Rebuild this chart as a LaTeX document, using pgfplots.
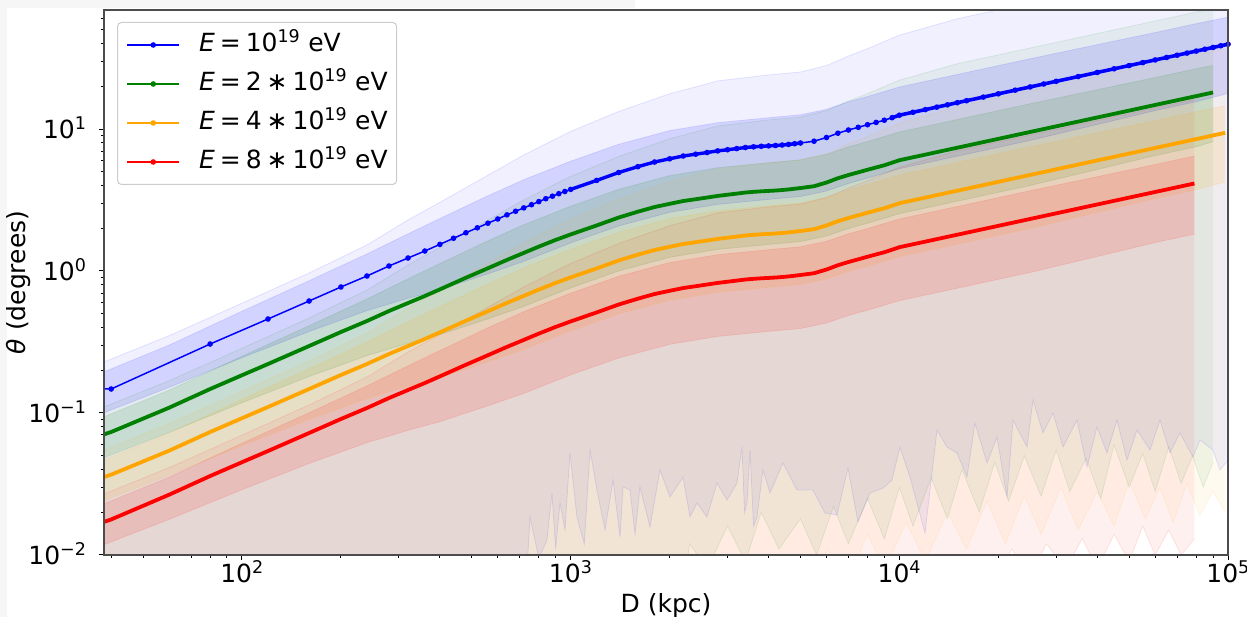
\documentclass[border=0pt]{standalone}
\usepackage{fontspec}
\setmainfont{DejaVu Sans}
\usepackage{pgfplots}
\pgfplotsset{compat=1.18}
\usepackage{pgfplotstable}
\usepgfplotslibrary{fillbetween}
\definecolor{mplgreen}{RGB}{0,128,0}
\definecolor{mplorange}{RGB}{255,165,0}
\definecolor{scr}{RGB}{246,246,246}

\pgfplotstableread{
D theta
35 0.1476
40 0.1476
80 0.3061
120 0.4592
160 0.6146
200 0.7716
240 0.9222
280 1.0844
320 1.2345
360 1.3829
400 1.540
440 1.700
480 1.860
520 2.015
560 2.170
600 2.325
640 2.4842
680 2.6330
720 2.7823
760 2.9303
800 3.0815
840 3.2303
880 3.3638
920 3.5029
960 3.6302
1000 3.7552
1200 4.345
1400 4.940
1600 5.427
1800 5.856
2000 6.168
2200 6.455
2400 6.645
2600 6.831
2800 7.011
3000 7.148
3200 7.278
3400 7.408
3600 7.492
3800 7.554
4000 7.603
4200 7.652
4400 7.714
4600 7.789
4800 7.878
5000 7.968
5500 8.205
6000 8.711
6500 9.341
7000 9.840
7500 10.28
8000 10.72
8500 11.13
9000 11.53
9500 12.01
10000 12.51
11000 13.12
12000 13.70
13000 14.26
14000 14.80
15000 15.32
16000 15.82
18000 16.78
20000 17.69
22500 18.77
25000 19.78
27500 20.75
30000 21.67
35000 23.40
40000 25.02
45000 26.54
50000 27.97
55000 29.34
60000 30.64
65000 31.89
70000 33.10
75000 34.26
80000 35.38
85000 36.47
90000 37.53
95000 38.56
100000 39.56
}\lineB

\pgfplotstableread{
D theta
38 0.0706
40 0.0735
60 0.10892
80 0.14752
100 0.18453
120 0.22130
160 0.29619
200 0.37186
240 0.44444
280 0.52260
320 0.59494
360 0.66646
400 0.74217
480 0.89639
560 1.04579
640 1.19721
720 1.34088
800 1.48507
900 1.65495
1000 1.80965
1200 2.09399
1400 2.38073
1600 2.61543
1800 2.82218
2000 2.97254
2200 3.11086
2400 3.20243
2600 3.29206
2800 3.37881
3000 3.44484
3200 3.50749
3400 3.57014
3600 3.61062
3800 3.64050
4000 3.66411
4200 3.68773
4400 3.71761
4600 3.75375
4800 3.79664
5000 3.84002
5500 3.95424
6000 4.19809
6500 4.50171
7000 4.74219
7500 4.95424
8000 5.16629
8500 5.36388
9000 5.55665
9500 5.78798
10000 6.02894
12000 6.60244
14000 7.13256
16000 7.62413
20000 8.52534
25000 9.53258
30000 10.4434
40000 12.0579
50000 13.4796
60000 14.7663
70000 15.9519
80000 17.0507
90000 18.0868
}\lineG

\pgfplotstableread{
D theta
38 0.0354
40 0.0368
60 0.05425
80 0.07348
100 0.09191
120 0.11023
160 0.14753
200 0.18522
240 0.22137
280 0.26030
320 0.29633
360 0.33195
400 0.36966
480 0.44647
560 0.52089
640 0.59631
720 0.66786
800 0.73968
900 0.82430
1000 0.90135
1200 1.04297
1400 1.18580
1600 1.30270
1800 1.40567
2000 1.48057
2200 1.54946
2400 1.59507
2600 1.63971
2800 1.68292
3000 1.71581
3200 1.74701
3400 1.77822
3600 1.79838
3800 1.81326
4000 1.82502
4200 1.83679
4400 1.85167
4600 1.86967
4800 1.89104
5000 1.91264
5500 1.96953
6000 2.09099
6500 2.24221
7000 2.36199
7500 2.46761
8000 2.57323
8500 2.67165
9000 2.76766
9500 2.88288
10000 3.00290
12000 3.28855
14000 3.55259
16000 3.79743
20000 4.24631
25000 4.74799
30000 5.20167
40000 6.00580
50000 6.71392
60000 7.35483
70000 7.94532
80000 8.49262
90000 9.00870
98000 9.400
}\lineO

\pgfplotstableread{
D theta
38 0.0171
40 0.0178
60 0.02657
80 0.03599
100 0.04502
120 0.05399
160 0.07227
200 0.09072
240 0.10843
280 0.12750
320 0.14515
360 0.16260
400 0.18107
480 0.21870
560 0.25515
640 0.29209
720 0.32714
800 0.36232
900 0.40377
1000 0.44151
1200 0.51089
1400 0.58085
1600 0.63811
1800 0.68855
2000 0.72523
2200 0.75898
2400 0.78132
2600 0.80319
2800 0.82435
3000 0.84046
3200 0.85575
3400 0.87103
3600 0.88091
3800 0.88820
4000 0.89396
4200 0.89972
4400 0.90701
4600 0.91583
4800 0.92630
5000 0.93688
5500 0.96474
6000 1.02424
6500 1.09831
7000 1.15699
7500 1.20872
8000 1.26046
8500 1.30867
9000 1.35570
9500 1.41214
10000 1.47093
12000 1.61085
14000 1.74018
16000 1.86012
20000 2.08000
25000 2.32573
30000 2.54796
40000 2.94185
50000 3.28871
60000 3.60265
70000 3.89190
79000 4.13411
}\lineR

\pgfplotstableread{
D ilo ihi ohi
38 0.1004 0.1948 0.2286
60 0.1514 0.3006 0.3501
100 0.2451 0.5207 0.5931
160 0.3749 0.8543 0.9680
240 0.5257 1.3187 1.5244
320 0.6419 1.8271 2.2863
400 0.7392 2.3408 3.0430
560 0.9548 3.3852 4.7263
720 1.1686 4.3960 6.5662
1000 1.5771 5.9329 9.6128
1400 2.0748 7.8052 13.289
2000 2.5906 9.7454 17.702
2800 2.9446 11.077 21.804
4000 3.1933 12.013 24.025
5000 3.3466 12.589 25.179
6000 3.6586 13.763 27.962
7000 4.1328 15.547 32.669
8000 4.5024 16.938 36.770
10000 5.2542 19.766 45.787
15000 6.4344 24.206 59.748
25000 8.3076 31.252 77.142
40000 10.759 39.281 97.578
60000 13.482 47.798 119.50
80000 15.567 55.193 137.98
100000 17.802 61.318 154.28
}\bandB

\pgfplotstableread{
D ilo ihi ohi
38 0.04839 0.09388 0.11017
60 0.07296 0.14487 0.16872
100 0.11812 0.25094 0.28583
160 0.18068 0.41171 0.46651
240 0.25335 0.63552 0.73465
320 0.30934 0.88053 1.10184
400 0.35624 1.12810 1.46651
560 0.46015 1.63143 2.27775
720 0.56318 2.11856 3.16445
1000 0.76005 2.85924 4.63269
1400 0.99989 3.76156 6.40436
2000 1.24849 4.69660 8.53113
2800 1.41909 5.33834 10.5080
4000 1.53894 5.78942 11.5784
5000 1.61282 6.06701 12.1345
6000 1.76318 6.63274 13.4757
7000 1.99171 7.49257 15.7442
8000 2.16984 8.16293 17.7206
10000 2.53216 9.52582 22.0662
15000 3.10093 11.6655 28.7943
25000 4.00368 15.0613 37.1770
40000 5.18509 18.9309 47.0253
60000 6.49738 23.0353 57.5906
80000 7.50220 26.5991 66.4968
90000 8.1392 28.035 70.540
}\bandG

\pgfplotstableread{
D ilo ihi ohi
38 0.02410 0.04676 0.05487
60 0.03634 0.07216 0.08404
100 0.05883 0.12499 0.14237
160 0.08999 0.20507 0.23236
240 0.12619 0.31654 0.36592
320 0.15408 0.43858 0.54880
400 0.17744 0.56189 0.73044
560 0.22919 0.81258 1.13450
720 0.28051 1.05522 1.57615
1000 0.37857 1.42413 2.30746
1400 0.49803 1.87356 3.18989
2000 0.62185 2.33929 4.24919
2800 0.70682 2.65893 5.23383
4000 0.76652 2.88360 5.76696
5000 0.80332 3.02186 6.04397
6000 0.87821 3.30365 6.71200
7000 0.99204 3.73190 7.84187
8000 1.08077 4.06580 8.82627
10000 1.26123 4.74463 10.9908
15000 1.54451 5.81041 14.3419
25000 1.99416 7.50173 18.5172
40000 2.58259 9.42901 23.4226
60000 3.23622 11.4734 28.6848
80000 3.73673 13.2486 33.1207
98000 4.2300 14.570 36.659
}\bandO

\pgfplotstableread{
D ilo ihi ohi
38 0.011805 0.022904 0.026879
60 0.017802 0.035345 0.041165
100 0.028819 0.061224 0.069737
160 0.044081 0.10045 0.11382
240 0.061812 0.15505 0.17924
320 0.075475 0.21483 0.26882
400 0.086915 0.27523 0.35780
560 0.11227 0.39803 0.55572
720 0.13740 0.51688 0.77205
1000 0.18544 0.69759 1.13027
1400 0.24395 0.91773 1.56252
2000 0.30460 1.14586 2.08140
2800 0.34623 1.30244 2.56371
4000 0.37547 1.41249 2.82486
5000 0.39349 1.48021 2.96055
6000 0.43018 1.61825 3.28777
7000 0.48594 1.82802 3.84122
8000 0.52939 1.99157 4.32342
10000 0.61779 2.32409 5.38363
15000 0.75656 2.84614 7.02517
25000 0.97681 3.67461 9.07036
40000 1.26504 4.61866 11.4732
60000 1.58521 5.62009 14.0510
79000 1.81896 6.44926 16.1226
}\bandR

\pgfplotstableread{
D theta
38 0.001
700 0.001
752 0.01852
800 0.0095
847 0.01275
877 0.02733
900 0.011
928 0.02323
961 0.0150
995 0.05228
1045 0.01852
1100 0.0120
1145 0.05488
1202 0.0287
1272 0.0150
1345 0.03374
1413 0.01339
1443 0.03012
1515 0.0287
1570 0.014
1625 0.03012
1743 0.01575
1869 0.03969
2005 0.02562
2196 0.03542
2307 0.01852
2423 0.02323
2598 0.01852
2787 0.03214
2989 0.0244
3206 0.03214
3320 0.05763
3380 0.02
3439 0.02323
3512 0.05488
3600 0.016
3689 0.01852
3846 0.03969
4040 0.02733
4425 0.04445
4880 0.0287
5459 0.0287
5937 0.01976
6459 0.01913
6975 0.041
7483 0.01708
8139 0.02733
8915 0.02963
9495 0.03374
10042 0.05763
10772 0.03542
11966 0.01429
13017 0.07592
13958 0.05763
14971 0.05228
16060 0.03542
16982 0.08503
18475 0.04445
19815 0.06776
21256 0.02562
22166 0.08927
24448 0.05763
25498 0.12346
27351 0.07231
29336 0.1
31464 0.05763
34698 0.08927
37218 0.04166
39921 0.07966
42818 0.05228
45924 0.08927
49259 0.04667
52844 0.07592
57872 0.05488
62073 0.08927
66583 0.05228
71412 0.07231
78208 0.04898
82139 0.06456
89946 0.05488
94477 0.03969
100000 0.04667
}\lowB

\pgfplotstableread{
D theta
38 0.001
2000 0.001
2300 0.012
2600 0.008
3000 0.016
3400 0.009
3800 0.020
4300 0.011
5000 0.018
5600 0.010
6300 0.022
7000 0.012
8000 0.025
9000 0.013
10000 0.030
11000 0.016
12500 0.035
14000 0.018
15500 0.040
17500 0.020
19500 0.045
21500 0.024
24000 0.050
27000 0.026
30000 0.055
33000 0.028
37000 0.048
41000 0.025
45000 0.060
50000 0.030
55000 0.052
60000 0.028
66000 0.058
72000 0.032
78000 0.050
84000 0.030
90000 0.045
}\lowG

\pgfplotstableread{
D theta
38 0.001
5000 0.001
6000 0.011
7000 0.007
8000 0.014
9000 0.008
10500 0.017
12000 0.009
14000 0.020
16000 0.011
18500 0.024
21000 0.012
24000 0.026
27000 0.014
31000 0.030
35000 0.015
40000 0.028
45000 0.016
50000 0.033
56000 0.018
62000 0.030
68000 0.017
75000 0.032
82000 0.019
90000 0.028
98000 0.020
}\lowO

\pgfplotstableread{
D theta
38 0.001
15000 0.001
17000 0.009
19000 0.006
22000 0.011
25000 0.007
28000 0.012
32000 0.008
36000 0.013
40000 0.008
45000 0.014
50000 0.009
55000 0.016
60000 0.010
66000 0.015
72000 0.010
79000 0.013
}\lowR

\begin{document}
\fontsize{25}{30}\selectfont
\begin{tikzpicture}
\fill[scr] (0pt,0pt) rectangle (7pt,617pt);
\fill[scr] (0pt,609pt) rectangle (635pt,617pt);
\begin{axis}[
  at={(104pt,62pt)}, anchor=south west,
  scale only axis, width=1124pt, height=545pt,
  xmode=log, ymode=log,
  xmin=38.04, xmax=100000, ymin=0.01, ymax=68.9,
  axis on top,
  axis line style={black!70, line width=1.2pt},
  tick style={black, line width=1pt},
  major tick length=5pt, minor tick length=3pt,
  tick align=outside, tick pos=left,
  xtick={100,1000,10000,100000},
  xticklabels={10\textsuperscript{2},10\textsuperscript{3},10\textsuperscript{4},10\textsuperscript{5}},
  ytick={0.01,0.1,1,10},
  yticklabels={10\textsuperscript{−2},10\textsuperscript{−1},10\textsuperscript{0},10\textsuperscript{1}},
  minor xtick={40,50,60,70,80,90,200,300,400,500,600,700,800,900,2000,3000,4000,5000,6000,7000,8000,9000,20000,30000,40000,50000,60000,70000,80000,90000},
  minor ytick={0.02,0.03,0.04,0.05,0.06,0.07,0.08,0.09,0.2,0.3,0.4,0.5,0.6,0.7,0.8,0.9,2,3,4,5,6,7,8,9,20,30,40,50,60},
  xticklabel style={anchor=base, yshift=-23pt},
  yticklabel style={anchor=base east, xshift=-4pt, yshift=-9.2pt},
  xlabel={D (kpc)}, ylabel={\textit{θ} (degrees)},
  xlabel style={at={(axis description cs:0.5,-0.1046)}, anchor=base},
  ylabel style={at={(axis description cs:-0.0694,0.5)}, anchor=base},
  legend cell align=left,
  legend image code/.code={\draw[mark repeat=2,mark phase=2,#1] plot coordinates {(0pt,0pt) (26pt,0pt) (52pt,0pt)};},
  legend style={at={(axis description cs:0.0116,0.978)}, anchor=north west,
    draw=black!20, line width=1pt, fill=white, fill opacity=0.8, text opacity=1,
    rounded corners=4pt, inner xsep=9pt, inner ysep=10pt, row sep=14pt,
    nodes={inner sep=0pt, text height=19pt, text depth=6pt, anchor=west},
    /tikz/every odd column/.style={column sep=19pt}},
]
% ---- bands: blue
\addplot[draw=blue, draw opacity=0.1, line width=0.8pt, name path=Bohi, forget plot] table[x=D,y=ohi]{\bandB};
\addplot[draw=blue, draw opacity=0.1, line width=0.8pt, name path=Bolo, forget plot] table[x=D,y=theta]{\lowB};
\addplot[draw=blue, draw opacity=0.1, line width=0.8pt, name path=Bihi, forget plot] table[x=D,y=ihi]{\bandB};
\addplot[draw=blue, draw opacity=0.1, line width=0.8pt, name path=Bilo, forget plot] table[x=D,y=ilo]{\bandB};
\addplot[fill=blue, fill opacity=0.06, draw=none, forget plot] fill between[of=Bohi and Bolo];
\addplot[fill=blue, fill opacity=0.12, draw=none, forget plot] fill between[of=Bihi and Bilo];
% ---- green
\addplot[draw=mplgreen, draw opacity=0.1, line width=0.8pt, name path=Gohi, forget plot] table[x=D,y=ohi]{\bandG};
\addplot[draw=mplgreen, draw opacity=0.1, line width=0.8pt, name path=Golo, forget plot] table[x=D,y=theta]{\lowG};
\addplot[draw=mplgreen, draw opacity=0.1, line width=0.8pt, name path=Gihi, forget plot] table[x=D,y=ihi]{\bandG};
\addplot[draw=mplgreen, draw opacity=0.1, line width=0.8pt, name path=Gilo, forget plot] table[x=D,y=ilo]{\bandG};
\addplot[fill=mplgreen, fill opacity=0.06, draw=none, forget plot] fill between[of=Gohi and Golo];
\addplot[fill=mplgreen, fill opacity=0.12, draw=none, forget plot] fill between[of=Gihi and Gilo];
% ---- orange
\addplot[draw=mplorange, draw opacity=0.1, line width=0.8pt, name path=Oohi, forget plot] table[x=D,y=ohi]{\bandO};
\addplot[draw=mplorange, draw opacity=0.1, line width=0.8pt, name path=Oolo, forget plot] table[x=D,y=theta]{\lowO};
\addplot[draw=mplorange, draw opacity=0.1, line width=0.8pt, name path=Oihi, forget plot] table[x=D,y=ihi]{\bandO};
\addplot[draw=mplorange, draw opacity=0.1, line width=0.8pt, name path=Oilo, forget plot] table[x=D,y=ilo]{\bandO};
\addplot[fill=mplorange, fill opacity=0.06, draw=none, forget plot] fill between[of=Oohi and Oolo];
\addplot[fill=mplorange, fill opacity=0.12, draw=none, forget plot] fill between[of=Oihi and Oilo];
% ---- red
\addplot[draw=red, draw opacity=0.1, line width=0.8pt, name path=Rohi, forget plot] table[x=D,y=ohi]{\bandR};
\addplot[draw=red, draw opacity=0.1, line width=0.8pt, name path=Rolo, forget plot] table[x=D,y=theta]{\lowR};
\addplot[draw=red, draw opacity=0.1, line width=0.8pt, name path=Rihi, forget plot] table[x=D,y=ihi]{\bandR};
\addplot[draw=red, draw opacity=0.1, line width=0.8pt, name path=Rilo, forget plot] table[x=D,y=ilo]{\bandR};
\addplot[fill=red, fill opacity=0.06, draw=none, forget plot] fill between[of=Rohi and Rolo];
\addplot[fill=red, fill opacity=0.12, draw=none, forget plot] fill between[of=Rihi and Rilo];
% ---- lines
\addplot[red, line width=3.8pt, forget plot] table[x=D,y=theta]{\lineR};
\addplot[mplorange, line width=3.8pt, forget plot] table[x=D,y=theta]{\lineO};
\addplot[mplgreen, line width=3.8pt, forget plot] table[x=D,y=theta]{\lineG};
\addplot[blue, line width=3.4pt, forget plot, skip coords between index={0}{25}, skip coords between index={46}{200}] table[x=D,y=theta]{\lineB};
\addplot[blue, line width=3.6pt, forget plot, skip coords between index={0}{54}] table[x=D,y=theta]{\lineB};
\addplot[blue, line width=1.5pt, mark=*, mark size=2pt, mark options={fill=blue, draw=blue}, forget plot] table[x=D,y=theta]{\lineB};
% ---- legend
\addlegendimage{blue, line width=1.5pt, mark=*, mark size=2pt, mark options={fill=blue}}
\addlegendentry{\textit{E}\hspace{0.2em}=\hspace{0.2em}10\textsuperscript{19} eV}
\addlegendimage{mplgreen, line width=1.5pt, mark=*, mark size=2pt, mark options={fill=mplgreen}}
\addlegendentry{\textit{E}\hspace{0.2em}=\hspace{0.2em}2\hspace{0.2em}∗\hspace{0.2em}10\textsuperscript{19} eV}
\addlegendimage{mplorange, line width=1.5pt, mark=*, mark size=2pt, mark options={fill=mplorange}}
\addlegendentry{\textit{E}\hspace{0.2em}=\hspace{0.2em}4\hspace{0.2em}∗\hspace{0.2em}10\textsuperscript{19} eV}
\addlegendimage{red, line width=1.5pt, mark=*, mark size=2pt, mark options={fill=red}}
\addlegendentry{\textit{E}\hspace{0.2em}=\hspace{0.2em}8\hspace{0.2em}∗\hspace{0.2em}10\textsuperscript{19} eV}
\end{axis}
\pgfresetboundingbox
\useasboundingbox (0pt,0pt) rectangle (1247pt,617pt);
\end{tikzpicture}
\end{document}
